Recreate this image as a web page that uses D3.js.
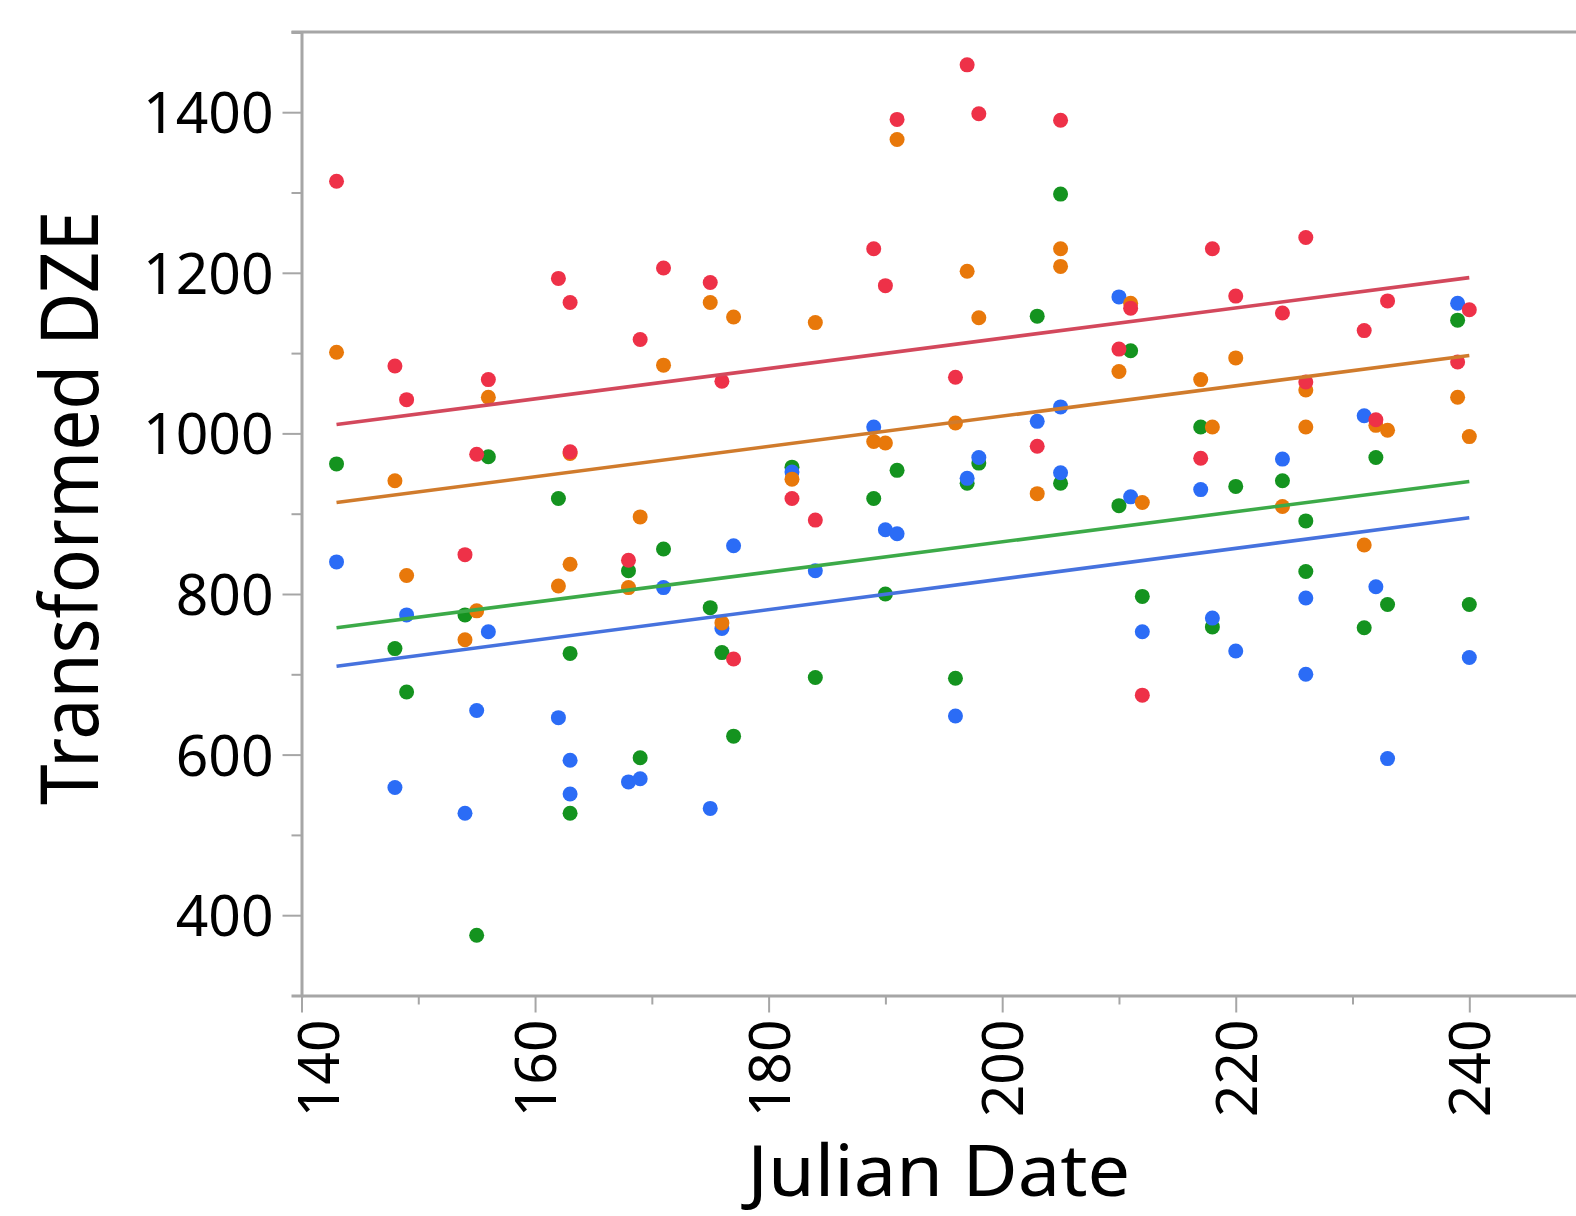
<!DOCTYPE html>
<html>
<head>
<meta charset="utf-8">
<script src="https://cdn.jsdelivr.net/npm/d3@7/dist/d3.min.js"></script>
<style>
  body { margin: 0; background: #fff; }
  text { font-family: "Noto Sans", "Open Sans", sans-serif; fill: #000; }
</style>
</head>
<body>
<div id="container"></div>
<script>
// Sampling dates (Julian day), shared by all four series
var sampleDates = [143, 148, 149, 154, 155, 156, 162, 163, 163, 168,
  169, 171, 175, 176, 177, 182, 184, 189, 190, 191,
  196, 197, 198, 203, 205, 205, 210, 211, 212, 217,
  218, 220, 224, 226, 226, 231, 232, 233, 239, 240];

// Transformed DZE per series (null = no visible point)
var redValues = [1314, 1084, 1042, 849, 974, 1067, 1193, 1163, 977, 842,
  1117, 1206, 1188, 1065, 719, 919, 892, 1230, 1184, 1391,
  1070, 1459, 1398, 984, 1390, null, 1105, 1156, 674, 969,
  1230, 1171, 1150, 1244, 1064, 1128, 1017, 1165, 1089, 1154];
var orangeValues = [1101, 941, 823, 743, 779, 1045, 810, 837, 975, 808,
  896, 1085, 1163, 764, 1145, 943, 1138, 990, 988, 1366,
  1013, 1202, 1144, 925, 1230, 1208, 1077, 1162, 914, 1067,
  1008, 1094, 909, 1054, 1008, 861, 1010, 1004, 1045, 996];
var greenValues = [962, 732, 678, 774, 375, 971, 919, 726, 527, 829,
  596, 856, 783, 727, 623, 958, 696, 919, 800, 954,
  695, 938, 963, 1146, 1298, 938, 910, 1103, 797, 1008,
  759, 934, 941, 891, 828, 758, 970, 787, 1141, 787];
var blueValues = [840, 559, 774, 527, 655, 753, 646, 593, 551, 566,
  570, 808, 533, 757, 860, 952, 829, 1008, 880, 875,
  648, 944, 970, 1015, 1033, 951, 1170, 921, 753, 930,
  770, 729, 968, 795, 700, 1022, 809, 595, 1162, 721];

// Fitted lines: value at first and last date
var fitDates = [143, 240];
var redFit = [1011, 1194];
var orangeFit = [914, 1097];
var greenFit = [758, 940];
var blueFit = [710, 895];

// Ticks
var xTicks = [140, 160, 180, 200, 220, 240];
var xMinorTicks = [150, 170, 190, 210, 230];
var yTicks = [400, 600, 800, 1000, 1200, 1400];
var yMinorTicks = [500, 700, 900, 1100, 1300];

// Colours
var axisGrey = '#a6a6a6';
var series = [
  { values: greenValues, fit: greenFit, dot: '#14931f', line: '#3caa48' },
  { values: blueValues, fit: blueFit, dot: '#2b6cf6', line: '#4672de' },
  { values: orangeValues, fit: orangeFit, dot: '#e8780a', line: '#d07b2c' },
  { values: redValues, fit: redFit, dot: '#ee3148', line: '#d3485c' }
];

// Size variables
var width = 1576;
var height = 1216;
var left = 301.5;
var pxPerDay = 11.678;

var svg = d3.select('#container')
  .append('svg')
  .attr('width', width)
  .attr('height', height)
  .style('display', 'block');

// Scales (plot runs past the right edge of the picture)
var xScale = d3.scaleLinear()
  .domain([140, 250])
  .range([left, left + 110 * pxPerDay]);

var yScale = d3.scaleLinear()
  .domain([300, 1500])
  .range([995.5, 31.9]);

// Points
series.forEach((s) => {
  var pts = sampleDates
    .map((d, i) => ({ date: d, value: s.values[i] }))
    .filter((p) => p.value != null);

  svg.append('g')
    .selectAll('circle')
    .data(pts)
    .enter().append('circle')
    .attr('cx', (d) => xScale(d.date))
    .attr('cy', (d) => yScale(d.value))
    .attr('r', 7.5)
    .style('fill', s.dot);
});

// Fit lines
var line = d3.line()
  .x((d) => xScale(d[0]))
  .y((d) => yScale(d[1]));

series.slice().reverse().forEach((s) => {
  svg.append('path')
    .datum(fitDates.map((d, i) => [d, s.fit[i]]))
    .attr('d', line)
    .attr('fill', 'none')
    .attr('stroke', s.line)
    .attr('stroke-width', 3.6);
});

// Top border
svg.append('line')
  .attr('x1', left - 10)
  .attr('x2', width)
  .attr('y1', yScale(1500))
  .attr('y2', yScale(1500))
  .attr('stroke', axisGrey)
  .attr('stroke-width', 3);

// X Axis
var xAxisG = svg.append('g')
  .attr('transform', `translate(0, ${yScale(300)})`)
  .call(d3.axisBottom(xScale).tickValues(xTicks).tickSize(17).tickSizeOuter(0).tickFormat(d3.format('d')));

xAxisG.select('.domain').attr('stroke', axisGrey).attr('stroke-width', 3);
xAxisG.selectAll('.tick line').attr('stroke', axisGrey).attr('stroke-width', 2);
xAxisG.selectAll('.tick text')
  .attr('transform', 'rotate(-90)')
  .attr('x', -24)
  .attr('y', (d) => d === 140 ? 16 : 0)
  .attr('dy', '0.36em')
  .style('text-anchor', 'end')
  .style('font-size', '57px')
  .style('font-family', '"Noto Sans", sans-serif');

svg.append('g')
  .attr('transform', `translate(0, ${yScale(300)})`)
  .call(d3.axisBottom(xScale).tickValues(xMinorTicks).tickSize(9).tickFormat(''))
  .call((g) => g.select('.domain').remove())
  .selectAll('.tick line').attr('stroke', axisGrey).attr('stroke-width', 2);

// Y Axis
var yAxisG = svg.append('g')
  .attr('transform', `translate(${left}, 0)`)
  .call(d3.axisLeft(yScale).tickValues(yTicks).tickSize(19).tickSizeOuter(10).tickPadding(9).tickFormat(d3.format('d')));

yAxisG.select('.domain').attr('stroke', axisGrey).attr('stroke-width', 3);
yAxisG.selectAll('.tick line').attr('stroke', axisGrey).attr('stroke-width', 2);
yAxisG.selectAll('.tick text')
  .attr('dy', '0.36em')
  .style('font-size', '57px')
  .style('font-family', '"Noto Sans", sans-serif');

svg.append('g')
  .attr('transform', `translate(${left}, 0)`)
  .call(d3.axisLeft(yScale).tickValues(yMinorTicks).tickSize(10).tickFormat(''))
  .call((g) => g.select('.domain').remove())
  .selectAll('.tick line').attr('stroke', axisGrey).attr('stroke-width', 2);

// Axis titles
svg.append('text')
  .attr('x', (left + width) / 2)
  .attr('y', 1196)
  .attr('text-anchor', 'middle')
  .attr('textLength', 383)
  .attr('lengthAdjust', 'spacingAndGlyphs')
  .style('font-size', '72px')
  .text('Julian Date');

svg.append('text')
  .attr('transform', 'translate(98, 508) rotate(-90)')
  .attr('text-anchor', 'middle')
  .attr('textLength', 594)
  .attr('lengthAdjust', 'spacingAndGlyphs')
  .style('font-size', '81px')
  .text('Transformed DZE');
</script>
</body>
</html>
